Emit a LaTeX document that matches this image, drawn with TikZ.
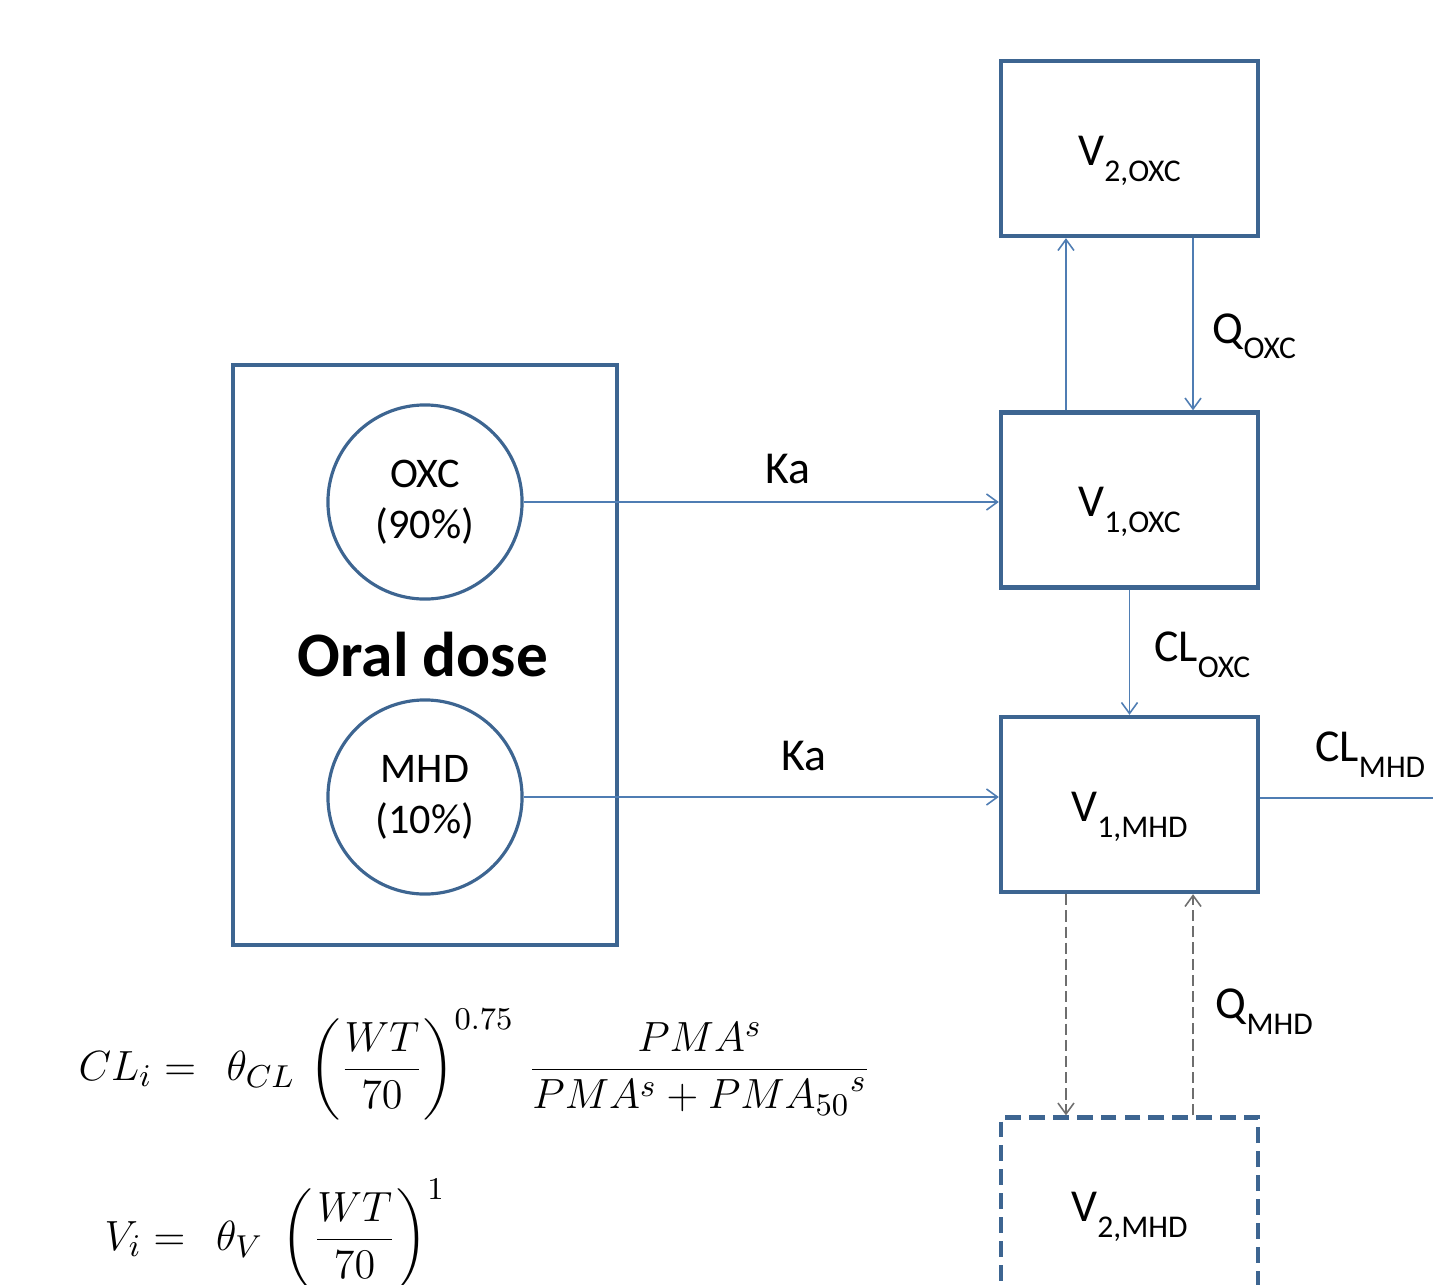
\documentclass[tikz,border=0pt]{standalone}
\usepackage{amsmath}
\usepackage[no-math]{fontspec}
\setmainfont{Carlito}
\usetikzlibrary{arrows.meta,positioning}
\definecolor{boxblue}{HTML}{3D6591}
\definecolor{arrowblue}{HTML}{4F7DB3}
\definecolor{dashgray}{HTML}{6E6E6E}
\newcommand{\lowsub}[1]{\raisebox{-4.5pt}{\fontsize{9}{10}\selectfont #1}}

\begin{document}
\begin{tikzpicture}[x=0.01cm,y=-0.01cm,every node/.style={align=center},
  comp/.style={draw=boxblue,line width=1.2pt,fill=white,minimum width=2.57cm,minimum height=1.75cm,
    text height=9.5pt,text depth=0pt,font=\fontsize{13}{15}\selectfont},
  periph/.style={comp,dash pattern=on 4.5pt off 2.3pt},
  dose/.style={draw=boxblue,line width=1.2pt,minimum width=3.84cm,minimum height=5.8cm},
  drug/.style={circle,draw=boxblue,line width=0.9pt,minimum size=1.94cm,inner sep=0pt,font=\fontsize{12}{14.5}\selectfont},
  flow/.style={draw=arrowblue,line width=0.45pt,-{Straight Barb[length=1.1mm,width=1.6mm]}},
  dflow/.style={draw=dashgray,line width=0.45pt,dash pattern=on 3.2pt off 1.4pt,-{Straight Barb[length=1.1mm,width=1.6mm]}},
  rate/.style={font=\fontsize{13}{15}\selectfont,inner sep=0pt},
  eq/.style={font=\fontsize{13}{15}\selectfont,inner sep=0pt}]
  \useasboundingbox (0,0) rectangle (1433,1285);
  % dose compartment
  \node[dose] (oral) at (425,655) {};
  \node[font=\fontsize{18}{20}\selectfont\bfseries] (oraltxt) at (423,655) {Oral dose};
  \node[drug] (oxc) at (425,502) {OXC\\(90\%)};
  \node[drug] (mhd) at (425,797) {MHD\\(10\%)};
  % central and peripheral compartments
  \node[comp] (v2oxc) at (1129.5,148.5) {V\lowsub{2,OXC}};
  \node[comp] (v1oxc) at (1129.5,500) {V\lowsub{1,OXC}};
  \node[comp] (v1mhd) at (1129.5,804.5) {V\lowsub{1,MHD}};
  \node[periph] (v2mhd) at (1129.5,1205) {V\lowsub{2,MHD}};
  \coordinate (elim) at (1433,798);
  % absorption
  \draw[flow] (oxc.east) -- node[rate,above=0.17cm,pos=0.556] (ka1) {Ka} (v1oxc.west |- oxc.east);
  \draw[flow] (mhd.east) -- node[rate,above=0.25cm,pos=0.59] (ka2) {Ka} (v1mhd.west |- mhd.east);
  % distribution and clearance
  \draw[flow] ([xshift=-0.635cm]v1oxc.north) -- ([xshift=-0.635cm]v2oxc.south);
  \draw[flow] ([xshift=0.635cm]v2oxc.south) -- node[rate,right=0.19cm,pos=0.57] (qoxc) {Q\lowsub{OXC}} ([xshift=0.635cm]v1oxc.north);
  \draw[flow] (v1oxc) -- node[rate,right=0.24cm,pos=0.52] (cloxc) {CL\lowsub{OXC}} (v1mhd);
  \draw[draw=arrowblue,line width=0.45pt] (v1mhd.east |- elim) -- node[rate,anchor=south east,pos=1,xshift=-2pt,yshift=0.2cm] (clmhd) {CL\lowsub{MHD}} (elim);
  \draw[dflow] ([xshift=-0.635cm]v1mhd.south) -- ([xshift=-0.635cm]v2mhd.north);
  \draw[dflow] ([xshift=0.635cm]v2mhd.north) -- node[rate,right=0.22cm,pos=0.47] (qmhd) {Q\lowsub{MHD}} ([xshift=0.635cm]v1mhd.south);
  % covariate model
  \node[eq,anchor=base west] (cleq) at (78,1080) {$CL_i =\;\, \theta_{CL}\,\left(\dfrac{WT}{70}\right)^{0.75}\,\dfrac{PMA^s}{PMA^s+{PMA_{50}}^{s}}$};
  \node[eq,anchor=base west] (veq) at (104,1250) {$V_i =\;\, \theta_V\;\left(\dfrac{WT}{70}\right)^{1}$};
\end{tikzpicture}
\end{document}
